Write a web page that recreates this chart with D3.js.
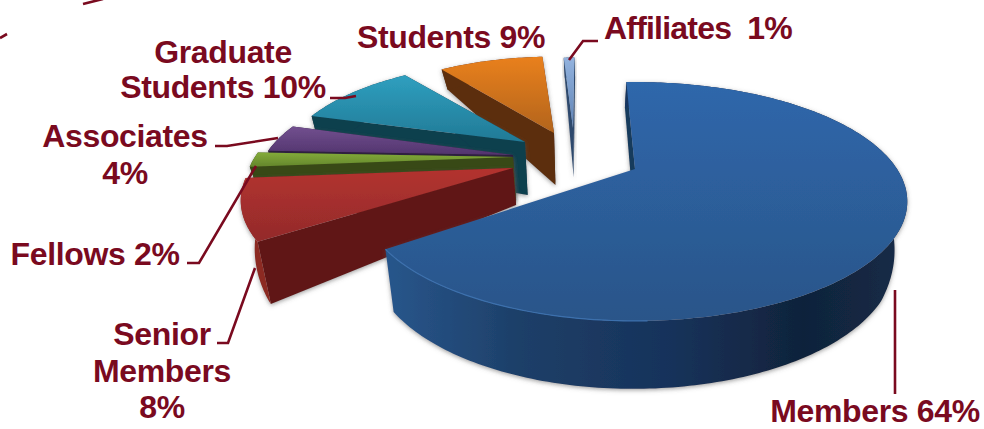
<!DOCTYPE html>
<html>
<head>
<meta charset="utf-8">
<script src="https://cdn.jsdelivr.net/npm/d3@7"></script>
<style>
  html, body { margin: 0; padding: 0; background: #fff; }
  text { font-family: "Liberation Sans", Arial, sans-serif; font-weight: bold; font-size: 32px; fill: #7a0a1f; letter-spacing: -0.35px; }
</style>
</head>
<body>
<div id="Area"></div>
<script>
// chart data
var categories = ["Members", "Senior Members", "Fellows", "Associates", "Graduate Students", "Students", "Affiliates"];
var percents = [64, 8, 2, 4, 10, 9, 1];

// look of each slice, same order as categories
var topLight = ["#2f67ab", "#b3332f", "#83ab3a", "#72508f", "#2f9fbf", "#e9801f", "#93b3de"];
var topDark = ["#2a5589", "#932a2b", "#64862c", "#52346e", "#217a96", "#b2641b", "#5f83b6"];
var cutColor = ["#123a5c", "#611818", "#394a16", "#2c1a3c", "#0f3f4e", "#5b2f0c", "#2f4a6d"];
var wallColor = ["#1b3a60", "#8c2a22", "#394a16", "#2c1a3c", "#0f3f4e", "#5b2f0c", "#2f4a6d"];
var tipX = [635, 513, 513, 513, 525, 554, 573];
var tipY = [169, 168, 157, 155, 142, 133, 128];
var radiusFactor = [1, 1, 0.985, 0.945, 0.905, 0.85, 0.77];
var angleShift = [0.6, 3.5, 3.5, 3.5, 2.5, 3, 3.5];

var width = 984, height = 429;

var svg = d3.select("#Area").append("svg")
  .attr("width", width)
  .attr("height", height)
  .style("display", "block");

var defs = svg.append("defs");

var shadow = defs.append("filter").attr("id", "soft")
  .attr("x", "-10%").attr("y", "-10%").attr("width", "120%").attr("height", "120%");
shadow.append("feDropShadow")
  .attr("dx", 0).attr("dy", 1.5).attr("stdDeviation", 2)
  .attr("flood-color", "#555").attr("flood-opacity", 0.55);

categories.forEach(function(c, i) {
  var g = defs.append("linearGradient").attr("id", "top" + i)
    .attr("x1", 0).attr("y1", 0).attr("x2", 0).attr("y2", 1);
  g.append("stop").attr("offset", "0%").attr("stop-color", topLight[i]);
  g.append("stop").attr("offset", "100%").attr("stop-color", topDark[i]);
});

var wallGrad = defs.append("linearGradient").attr("id", "membersWall")
  .attr("gradientUnits", "userSpaceOnUse")
  .attr("x1", 392).attr("y1", 0).attr("x2", 905).attr("y2", 0);
[[0, "#28558a"], [0.25, "#1d3f68"], [0.55, "#17325a"], [0.8, "#10233b"], [1, "#142b47"]].forEach(function(s) {
  wallGrad.append("stop").attr("offset", s[0]).attr("stop-color", s[1]);
});

// perspective disc, a is clockwise from the back of the pie
var radiusX = 262, radiusY = 110.6, persp = 0.272;
var vanishX = 590, vanishShift = 0.04;

// wall height gets bigger towards the front of the picture
var wallHeight = d3.scaleLinear()
  .domain([72, 100, 133, 142, 168, 240, 322])
  .range([20, 35, 52, 53, 37, 62, 68])
  .clamp(true);

function topPoint(i, a) {
  var r = radiusFactor[i];
  var u = r * Math.sin(a), v = -r * Math.cos(a);
  var p = 1 / (1 - persp * v);
  return [tipX[i] + radiusX * u * p, tipY[i] + radiusY * v * p];
}

function lowPoint(pt) {
  return [pt[0] + (vanishX - pt[0]) * vanishShift, pt[1] + wallHeight(pt[1])];
}

var line = d3.line();

var slices = d3.pie().sort(null)
  .startAngle(-3 * Math.PI / 180)
  .endAngle(357 * Math.PI / 180)(percents);

function rim(i, a0, a1) {
  var n = Math.max(6, Math.round(Math.abs(a1 - a0) * 60));
  return d3.range(n + 1).map(function(k) { return topPoint(i, a0 + (a1 - a0) * k / n); });
}

// back slices first so the front ones cover them
var order = [6, 5, 4, 3, 2, 1, 0];
var chart = svg.append("g");

order.forEach(function(i) {
  var s = slices[i];
  var shift = angleShift[i] * Math.PI / 180;
  var a0 = s.startAngle + shift, a1 = s.endAngle + shift;
  var tip = [tipX[i], tipY[i]];
  var edge = rim(i, a0, a1);
  var g = chart.append("g").attr("class", "slice").attr("filter", "url(#soft)");

  // the cut faces, the big slice only shows its back one
  var cuts = i === 0 ? [edge[0]] : [edge[0], edge[edge.length - 1]];
  cuts.forEach(function(e) {
    g.append("path")
      .attr("d", line([tip, e, lowPoint(e), lowPoint(tip)]) + "Z")
      .attr("fill", cutColor[i]);
  });

  // outer wall
  g.append("path")
    .attr("d", line(edge.concat(edge.map(lowPoint).reverse())) + "Z")
    .attr("fill", i === 0 ? "url(#membersWall)" : wallColor[i]);

  // top
  g.append("path")
    .attr("d", line([tip].concat(edge)) + "Z")
    .attr("fill", "url(#top" + i + ")");

  if (i === 0) {
    // light edge along the front left rim
    chart.append("path")
      .attr("d", line(rim(0, 178 * Math.PI / 180, a1)))
      .attr("fill", "none")
      .attr("stroke", "#3c70ad")
      .attr("stroke-width", 1.2);
  }
});

// labels
var labelLines = [
  ["Members 64%"],
  ["Senior", "Members", "8%"],
  ["Fellows 2%"],
  ["Associates", "4%"],
  ["Graduate", "Students 10%"],
  ["Students 9%"],
  ["Affiliates  1%"]
];
var labelX = [875, 162, 95, 125, 223, 451, 698];
var labelY = [422, 345, 265, 147, 63, 48, 39];
var labelStep = [0, 36.5, 0, 37, 35, 0, 0];

labelLines.forEach(function(lines, i) {
  lines.forEach(function(t, k) {
    svg.append("text")
      .attr("x", labelX[i])
      .attr("y", labelY[i] + k * labelStep[i])
      .attr("text-anchor", "middle")
      .attr("xml:space", "preserve")
      .style("letter-spacing", i === 6 ? "-0.8px" : null)
      .text(t);
  });
});

// leader lines
var leaders = [
  [[895, 290], [895, 394]],
  [[217, 343], [228, 343], [255, 268]],
  [[187, 263], [199, 263], [256, 166]],
  [[215, 146], [227, 146], [278, 138]],
  [[330, 98], [345, 98], [356, 96]],
  [[569, 60], [583, 41], [598, 41]],
  [[0, 38], [7, 34]],
  [[83, 4], [103, -1]]
];

svg.selectAll(".leader")
  .data(leaders)
  .enter()
  .append("path")
  .attr("class", "leader")
  .attr("d", function(d) { return line(d); })
  .attr("fill", "none")
  .attr("stroke", "#7a0a1f")
  .attr("stroke-width", 2.6);
</script>
</body>
</html>
